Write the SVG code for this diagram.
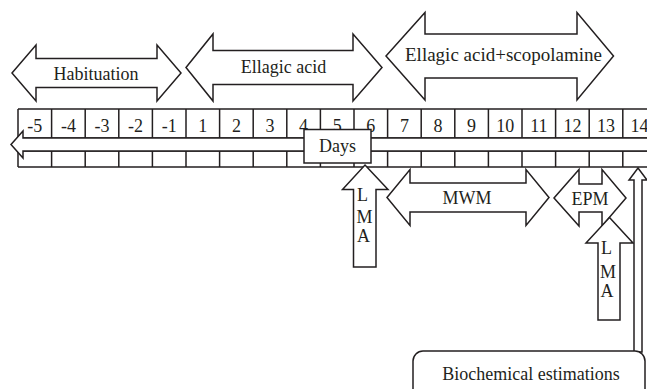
<svg xmlns="http://www.w3.org/2000/svg" width="647" height="389" viewBox="0 0 647 389">
<style>
.s{fill:#fff;stroke:#231f20;stroke-width:1.5;stroke-linejoin:miter}
.l{stroke:#231f20;stroke-width:1.5;fill:none}
text{font-family:"Liberation Serif","Times New Roman",serif;font-size:18px;fill:#231f20}
.c{text-anchor:middle}
</style>
<rect width="647" height="389" fill="#fff"/>
<g id="grid">
<path class="l" d="M18 109H660M18 138H660M18 151H660M18 167H660"/>
<path class="l" d="M18 109V167M51.6 109V167M85.2 109V167M118.8 109V167M152.4 109V167M186 109V167M219.6 109V167M253.2 109V167M286.8 109V167M320.4 109V167M354 109V167M387.6 109V167M421.2 109V167M454.8 109V167M488.4 109V167M522 109V167M555.6 109V167M589.2 109V167M622.8 109V167"/>
<g class="c">
<text x="34.8" y="131.5">-5</text><text x="68.4" y="131.5">-4</text><text x="102" y="131.5">-3</text><text x="135.6" y="131.5">-2</text><text x="169.2" y="131.5">-1</text>
<text x="202.8" y="131.5">1</text><text x="236.4" y="131.5">2</text><text x="270" y="131.5">3</text><text x="303.6" y="131.5">4</text><text x="337.2" y="131.5">5</text>
<text x="370.8" y="131.5">6</text><text x="404.4" y="131.5">7</text><text x="438" y="131.5">8</text><text x="471.6" y="131.5">9</text><text x="505.2" y="131.5">10</text>
<text x="538.8" y="131.5">11</text><text x="572.4" y="131.5">12</text><text x="606" y="131.5">13</text><text x="639.6" y="131.5">14</text>
</g>
</g>
<g id="timeline">
<polygon class="s" points="11,144.5 23,131 23,138 660,138 660,151 23,151 23,158"/>
</g>
<g id="days">
<rect class="s" x="304" y="129.5" width="67" height="33.5"/>
<text class="c" x="337.5" y="151.5">Days</text>
</g>
<g id="connectors">
<g id="habituation">
<polygon class="s" points="12,73 36,45 36,58.5 157,58.5 157,45 181,73 157,101 157,87.5 36,87.5 36,101"/>
<text class="c" x="96" y="80">Habituation</text>
</g>
<g id="ellagic">
<polygon class="s" points="186,67.5 213,34 213,50.5 353,50.5 353,34 382,67.5 353,101 353,84.5 213,84.5 213,101"/>
<text class="c" x="283.5" y="73">Ellagic acid</text>
</g>
<g id="ellagic-scop">
<polygon class="s" points="386,56 425,12.5 425,34 577,34 577,12.5 613.5,56 577,100 577,78 425,78 425,100"/>
<text class="c" x="503.5" y="61" style="font-size:19px">Ellagic acid+scopolamine</text>
</g>
<g id="mwm">
<polygon class="s" points="387,197.5 410,169.5 410,183 526,183 526,169.5 549,197.5 526,225.5 526,212 410,212 410,225.5"/>
<text class="c" x="467" y="203.5">MWM</text>
</g>
<g id="epm">
<polygon class="s" points="554,198 579,169.5 579,184 602,184 602,169.5 626,198 602,226 602,212 579,212 579,226"/>
<text class="c" x="590" y="205">EPM</text>
</g>
<g id="lma1">
<polygon class="s" points="365,165 388,189.5 376,189.5 376,267 353.5,267 353.5,189.5 342.5,189.5"/>
<text x="357" y="200.5">L</text><text x="356.5" y="223">M</text><text x="357" y="242">A</text>
</g>
<g id="lma2">
<polygon class="s" points="609.5,217.5 633,243 620,243 620,320 598,320 598,243 586,243"/>
<text x="601" y="254">L</text><text x="600" y="277.5">M</text><text x="600.5" y="296.5">A</text>
</g>
<g id="biochem-arrow">
<polygon class="s" points="638,168 647,180 642,180 642,352 634,352 634,180 629,180"/>
</g>
</g>
<g id="biochem">
<rect class="s" x="413" y="351" width="232" height="60" rx="10"/>
<text class="c" x="531" y="380">Biochemical estimations</text>
</g>
</svg>
